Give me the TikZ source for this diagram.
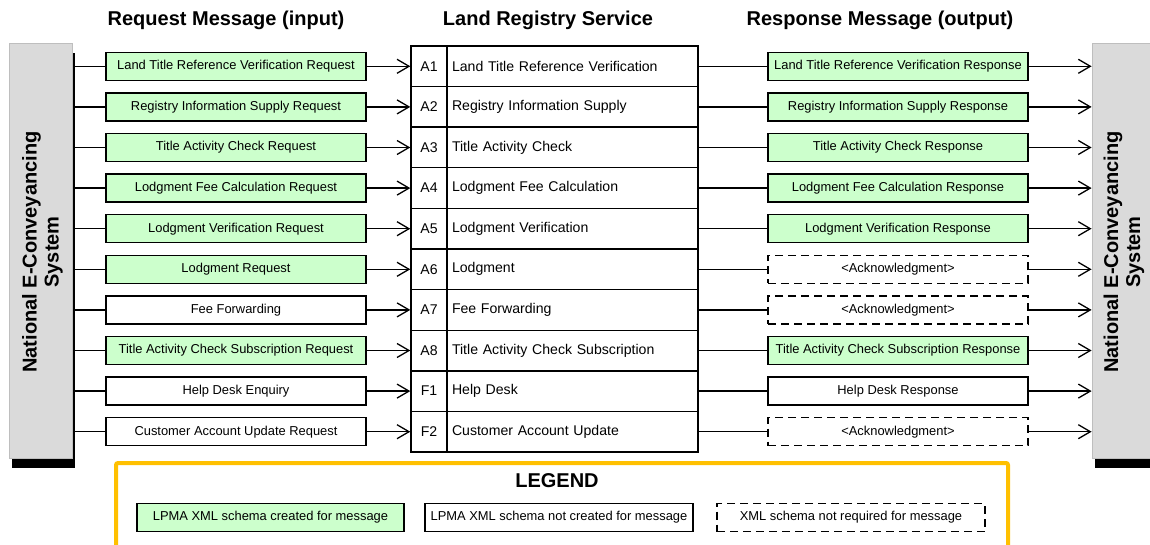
\documentclass[tikz,border=0pt]{standalone}
\usepackage{fontspec}
\setmainfont{Liberation Sans}
\usetikzlibrary{arrows.meta}
\definecolor{msggreen}{RGB}{204,255,204}
\definecolor{panelgray}{RGB}{218,218,218}
\definecolor{paneledge}{RGB}{190,190,190}
\definecolor{legendorange}{RGB}{255,192,0}
\begin{document}
\begin{tikzpicture}[x=1pt,y=-1pt,
  msg/.style={draw=black, line width=1.4pt, minimum width=260pt, minimum height=28pt, inner sep=0pt, font=\fontsize{12.9}{15}\selectfont},
  xmlmsg/.style={msg, fill=msggreen},
  plainmsg/.style={msg, fill=white},
  ackmsg/.style={msg, fill=white, dash pattern=on 8pt off 5pt},
  codecell/.style={draw=black, line width=1.4pt, minimum width=36pt, minimum height=40.6pt, inner sep=0pt, font=\fontsize{14.1}{16}\selectfont},
  namecell/.style={draw=black, line width=1.4pt, minimum height=40.6pt, text width=241pt, inner xsep=5pt, inner ysep=0pt, align=left, font=\fontsize{14.1}{16}\selectfont},
  flow/.style={line width=1.3pt, -{Straight Barb[length=12pt,width=14pt,line width=1.3pt]}},
  link/.style={line width=1.3pt},
  header/.style={font=\bfseries\fontsize{20}{22}\selectfont},
  sidetext/.style={font=\bfseries\fontsize{20}{22}\selectfont, rotate=90, align=center},
  panel/.style={fill=panelgray, draw=paneledge, line width=0.8pt, minimum width=63pt, minimum height=415pt, inner sep=0pt},
  shadowbox/.style={fill=black, minimum width=63pt, minimum height=415pt, inner sep=0pt},
  legendframe/.style={draw=legendorange, line width=4pt, rounded corners=2pt}
]
\useasboundingbox (0,0) rectangle (1150,545);

% headers
\node[header] (h1) at (226,20) {Request Message (input)};
\node[header] (h2) at (548,20) {Land Registry Service};
\node[header] (h3) at (880,20) {Response Message (output)};

% side panels
\node[shadowbox] (lshadow) at (43.5,260.5) {};
\node[panel] (lpanel) at (40.5,250.5) {};
\node[sidetext] (ltext) at (42.5,252) {National E-Conveyancing\\System};
\node[shadowbox] (rshadow) at (1126.5,260.5) {};
\node[panel] (rpanel) at (1123.5,250.5) {};
\node[sidetext] (rtext) at (1124,252) {National E-Conveyancing\\System};

% rows
\foreach \i/\req/\rs/\code/\name/\resp/\rsst in {
  1/Land Title Reference Verification Request/xmlmsg/A1/Land Title Reference Verification/Land Title Reference Verification Response/xmlmsg,
  2/Registry Information Supply Request/xmlmsg/A2/Registry Information Supply/Registry Information Supply Response/xmlmsg,
  3/Title Activity Check Request/xmlmsg/A3/Title Activity Check/Title Activity Check Response/xmlmsg,
  4/Lodgment Fee Calculation Request/xmlmsg/A4/Lodgment Fee Calculation/Lodgment Fee Calculation Response/xmlmsg,
  5/Lodgment Verification Request/xmlmsg/A5/Lodgment Verification/Lodgment Verification Response/xmlmsg,
  6/Lodgment Request/xmlmsg/A6/Lodgment/<Acknowledgment>/ackmsg,
  7/Fee Forwarding/plainmsg/A7/Fee Forwarding/<Acknowledgment>/ackmsg,
  8/Title Activity Check Subscription Request/xmlmsg/A8/Title Activity Check Subscription/Title Activity Check Subscription Response/xmlmsg,
  9/Help Desk Enquiry/plainmsg/F1/Help Desk/Help Desk Response/plainmsg,
  10/Customer Account Update Request/plainmsg/F2/Customer Account Update/<Acknowledgment>/ackmsg}
{
  \pgfmathsetmacro{\yy}{66.3+40.6*(\i-1)}
  \node[\rs] (req\i) at (236,\yy) {\req};
  \node[codecell] (code\i) at (429,\yy) {\code};
  \node[namecell] (svc\i) at (572.5,\yy) {\name};
  \node[\rsst] (resp\i) at (898,\yy) {\resp};
  \draw[link] (lshadow.east |- req\i.west) -- (req\i.west);
  \draw[flow] (req\i.east) -- (code\i.west);
  \draw[link] (svc\i.east) -- (resp\i.west);
  \draw[flow] (resp\i.east) -- (rpanel.west |- resp\i.east);
}

% legend
\node[legendframe, minimum width=892pt, minimum height=110pt, inner sep=0pt] (legend) at (562,518) {};
\node[header] (legendtitle) at (557,481) {LEGEND};
\node[xmlmsg, minimum width=267pt] (lg1) at (270.5,517.5) {LPMA XML schema created for message};
\node[plainmsg, minimum width=268pt] (lg2) at (559,517.5) {LPMA XML schema not created for message};
\node[ackmsg, minimum width=268pt] (lg3) at (851,517.5) {XML schema not required for message};
\end{tikzpicture}
\end{document}
